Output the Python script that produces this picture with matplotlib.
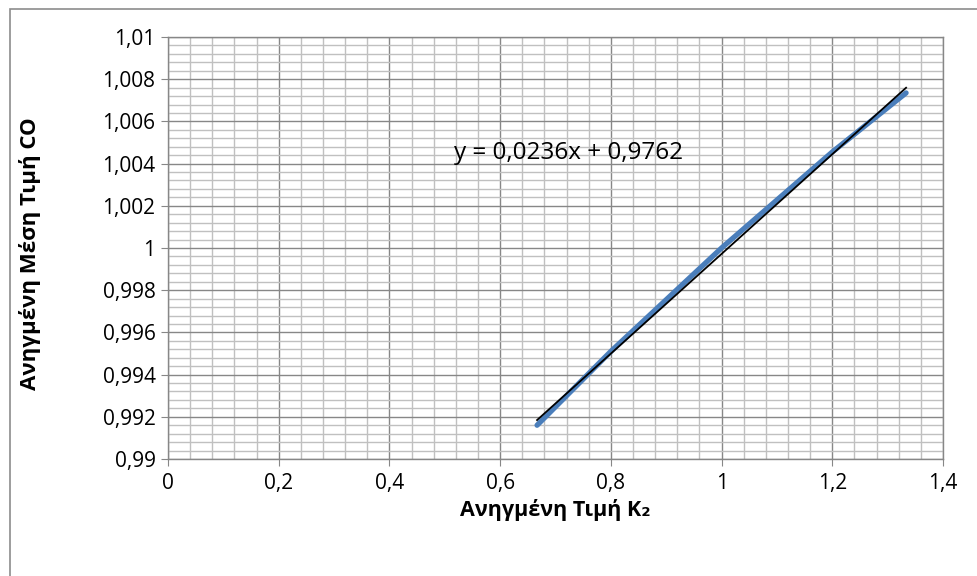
import matplotlib
matplotlib.use("Agg")
import matplotlib.pyplot as plt
import numpy as np
from matplotlib.ticker import MultipleLocator, FuncFormatter
from matplotlib.patches import Rectangle

plt.rcParams['font.family'] = ['Open Sans', 'DejaVu Sans']

# Data
k2_values = [0.6667, 0.8, 1.0, 1.2, 1.3333]
co_values = [0.99160, 0.99510, 1.00000, 1.00455, 1.00735]
eq_text = "y = 0,0236x + 0,9762"
xlabel = "Ανηγμένη Τιμή K₂"
ylabel = "Ανηγμένη Μέση Τιμή CO"

W, H = 978, 576
fig = plt.figure(figsize=(W/100, H/100), dpi=100)
fig.patches.append(Rectangle((10/W, -0.1), 1.2, 1 - 9/H + 0.1, transform=fig.transFigure,
                             fill=False, edgecolor='#8c8c8c', linewidth=1.2))

ax = fig.add_axes([168/W, 1 - 459/H, (943-168)/W, (459-37)/H])
ax.set_xlim(0, 1.4)
ax.set_ylim(0.99, 1.01)
ax.xaxis.set_major_locator(MultipleLocator(0.2))
ax.xaxis.set_minor_locator(MultipleLocator(0.04))
ax.yaxis.set_major_locator(MultipleLocator(0.002))
ax.yaxis.set_minor_locator(MultipleLocator(0.0004))

def fmt(v, pos):
    s = f"{v:.3f}".rstrip('0').rstrip('.')
    if s in ("-0",):
        s = "0"
    return s.replace('.', ',')

ax.xaxis.set_major_formatter(FuncFormatter(fmt))
ax.yaxis.set_major_formatter(FuncFormatter(fmt))

ax.grid(which='major', color='#878787', linewidth=1.0)
ax.grid(which='minor', color='#c0c0c0', linewidth=1.0)
ax.set_axisbelow(True)
for s in ax.spines.values():
    s.set_color('#878787')
    s.set_linewidth(1.0)
ax.tick_params(which='major', direction='out', length=5, color='#878787', labelsize=15)
ax.tick_params(axis='x', which='major', pad=5)
ax.tick_params(axis='y', which='major', pad=4)
ax.tick_params(which='minor', length=0)

ax.plot(k2_values, co_values, color='#4a7ebb', linewidth=3.8, solid_capstyle='round', zorder=3)
slope, intercept = np.polyfit(k2_values, co_values, 1)
xs = np.array([min(k2_values), max(k2_values)])
ax.plot(xs, slope*xs + intercept, color='black', linewidth=1.3, zorder=4)

ax.text(0.517, 1.0045, eq_text, fontsize=17.5, ha='left', va='center')

fig.text(555/W, 1 - 510/H, xlabel, fontsize=15.5, fontweight='bold', ha='center', va='center')
fig.text(30/W, 1 - 254/H, ylabel, fontsize=16, fontweight='bold', ha='center', va='center', rotation=90)

fig.savefig("out.png", dpi=100)
